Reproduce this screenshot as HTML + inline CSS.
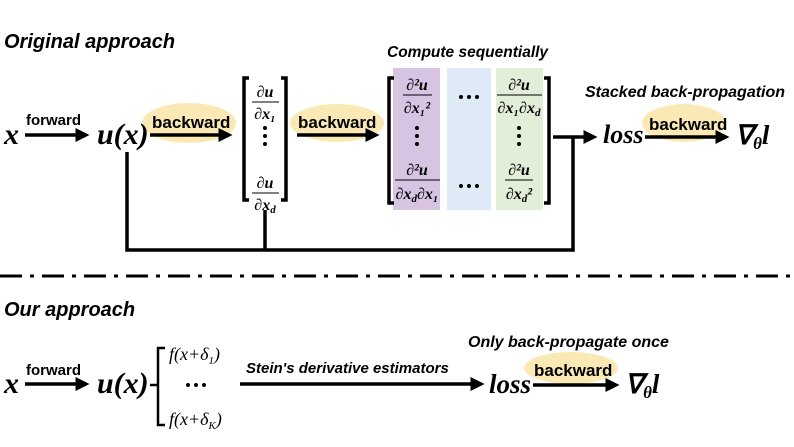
<!DOCTYPE html>
<html><head><meta charset="utf-8"><style>
html,body{margin:0;padding:0;background:#fff;}
svg{display:block;}
.h{font-family:"Liberation Sans",sans-serif;font-weight:bold;font-style:italic;}
.s{font-family:"Liberation Serif",serif;font-style:italic;font-weight:bold;}
.sn{font-family:"Liberation Serif",serif;font-style:italic;}
.l{font-family:"Liberation Sans",sans-serif;font-weight:bold;}
</style></head><body>
<svg width="794" height="447" viewBox="0 0 794 447" xmlns="http://www.w3.org/2000/svg">
<defs><marker id="a" markerWidth="4" markerHeight="4" refX="3" refY="2" orient="auto" markerUnits="strokeWidth"><path d="M0,0 L4,2 L0,4z" fill="#000"/></marker></defs>
<text x="4" y="48" class="h" font-size="20">Original approach</text>
<ellipse cx="189" cy="123" rx="47" ry="20" fill="#fbe9b5"/>
<ellipse cx="337" cy="123" rx="47" ry="19" fill="#fbe9b5"/>
<ellipse cx="684" cy="123" rx="42" ry="19" fill="#fbe9b5"/>
<ellipse cx="571" cy="368" rx="47" ry="16" fill="#fbe9b5"/>
<rect x="393" y="68" width="47" height="142" fill="#d7c3e2"/>
<rect x="447" y="68" width="44" height="142" fill="#deeaf6"/>
<rect x="496" y="68" width="47" height="142" fill="#e3eed8"/>
<g stroke="#000" stroke-width="3.5" fill="none">
<line x1="25" y1="135" x2="86" y2="135" marker-end="url(#a)"/>
<line x1="150" y1="135" x2="229" y2="135" marker-end="url(#a)"/>
<line x1="297" y1="135" x2="376" y2="135" marker-end="url(#a)"/>
<polyline points="553,137 594,137" marker-end="url(#a)"/>
<line x1="645" y1="137" x2="726" y2="137" marker-end="url(#a)"/>
<polyline points="127,152 127,250 573,250 573,137"/>
<line x1="265" y1="210" x2="265" y2="250"/>
<path d="M249,78 H244 V200 H249"/><path d="M281,78 H286 V200 H281"/>
<path d="M394,78 H389 V203 H394"/><path d="M544,78 H549 V203 H544"/>
</g>
<text x="4" y="144" class="s" font-size="30">x</text>
<text x="26" y="125" class="l" font-size="15">forward</text>
<text x="97" y="144" class="s" font-size="30">u(x)</text>
<text x="152" y="128" class="l" font-size="17">backward</text>
<text x="298" y="128" class="l" font-size="17">backward</text>
<g class="s" font-size="16" text-anchor="middle">
<text x="265" y="97">∂u</text><line x1="252" y1="102" x2="279" y2="102" stroke="#000"/><text x="265" y="119">∂x₁</text>
<text x="265" y="188">∂u</text><line x1="252" y1="193" x2="279" y2="193" stroke="#000"/><text x="265" y="210">∂x<tspan font-size="11" dy="3">d</tspan></text>
<text x="417" y="90">∂²u</text><line x1="403" y1="95" x2="432" y2="95" stroke="#000"/><text x="417" y="113">∂x₁²</text>
<text x="417" y="175">∂²u</text><line x1="395" y1="180" x2="440" y2="180" stroke="#000"/><text x="417" y="199">∂x<tspan font-size="11" dy="3">d</tspan><tspan dy="-3">∂x₁</tspan></text>
<text x="519" y="90">∂²u</text><line x1="497" y1="95" x2="542" y2="95" stroke="#000"/><text x="519" y="113">∂x₁∂x<tspan font-size="11" dy="3">d</tspan></text>
<text x="519" y="175">∂²u</text><line x1="505" y1="180" x2="533" y2="180" stroke="#000"/><text x="519" y="199">∂x<tspan font-size="11" dy="3">d</tspan><tspan dy="-3">²</tspan></text>
</g>
<g fill="#000">
<circle cx="265" cy="128" r="2"/><circle cx="265" cy="136" r="2"/><circle cx="265" cy="144" r="2"/>
<circle cx="417" cy="128" r="2"/><circle cx="417" cy="136" r="2"/><circle cx="417" cy="144" r="2"/>
<circle cx="519" cy="128" r="2"/><circle cx="519" cy="136" r="2"/><circle cx="519" cy="144" r="2"/>
<circle cx="461" cy="97" r="2"/><circle cx="469" cy="97" r="2"/><circle cx="477" cy="97" r="2"/>
<circle cx="461" cy="186" r="2"/><circle cx="469" cy="186" r="2"/><circle cx="477" cy="186" r="2"/>
<circle cx="188" cy="385" r="2"/><circle cx="196" cy="385" r="2"/><circle cx="204" cy="385" r="2"/>
</g>
<text x="387" y="57" class="h" font-size="15.5">Compute sequentially</text>
<text x="585" y="97" class="h" font-size="16">Stacked back-propagation</text>
<text x="603" y="143" class="s" font-size="26">loss</text>
<text x="649" y="130" class="l" font-size="17">backward</text>
<text x="735" y="144" class="s" font-size="27">∇<tspan font-size="17" dy="5">θ</tspan><tspan dy="-5">l</tspan></text>
<line x1="0" y1="276" x2="794" y2="276" stroke="#000" stroke-width="3" stroke-dasharray="22,8,4,8"/>
<text x="4" y="316" class="h" font-size="20">Our approach</text>
<g stroke="#000" stroke-width="3.5" fill="none">
<line x1="25" y1="384" x2="86" y2="384" marker-end="url(#a)"/>
<line x1="240" y1="384" x2="481" y2="384" marker-end="url(#a)"/>
<line x1="533" y1="385" x2="616" y2="385" marker-end="url(#a)"/>
</g>
<g stroke="#000" stroke-width="2.5" fill="none"><path d="M165,348 H158 V425 H165"/><line x1="150" y1="385" x2="158" y2="385"/></g>
<text x="4" y="393" class="s" font-size="30">x</text>
<text x="26" y="375" class="l" font-size="15">forward</text>
<text x="97" y="393" class="s" font-size="30">u(x)</text>
<text x="169" y="360" class="sn" font-size="18">f(x+δ<tspan font-size="11" dy="4">1</tspan><tspan dy="-4">)</tspan></text>
<text x="169" y="425" class="sn" font-size="18">f(x+δ<tspan font-size="11" dy="4">K</tspan><tspan dy="-4">)</tspan></text>
<text x="246" y="373" class="h" font-size="15">Stein's derivative estimators</text>
<text x="489" y="393" class="s" font-size="27">loss</text>
<text x="534" y="376" class="l" font-size="17">backward</text>
<text x="468" y="347" class="h" font-size="16">Only back-propagate once</text>
<text x="625" y="393" class="s" font-size="27">∇<tspan font-size="17" dy="5">θ</tspan><tspan dy="-5">l</tspan></text>
</svg>
</body></html>
